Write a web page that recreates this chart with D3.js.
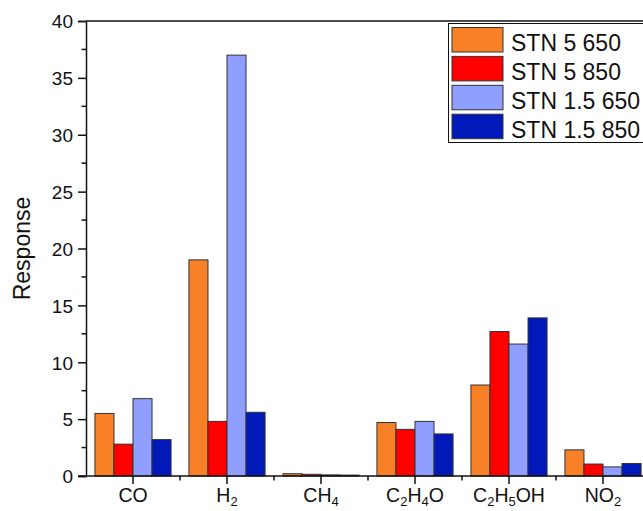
<!DOCTYPE html>
<html><head><meta charset="utf-8">
<script src="https://cdn.jsdelivr.net/npm/d3@7"></script>
<style>body{margin:0;background:#fff}svg{display:block}text{font-family:"Liberation Sans",Arial,sans-serif;fill:#111}</style>
</head><body>
<script>
const categories = [["CO"],["H",["2"]],["CH",["4"]],["C",["2"],"H",["4"],"O"],["C",["2"],"H",["5"],"OH"],["NO",["2"]]];
const categoryKeys = ["CO","H2","CH4","C2H4O","C2H5OH","NO2"];
const seriesNames = ["STN 5 650","STN 5 850","STN 1.5 650","STN 1.5 850"];
const seriesColors = ["#F88026","#FF0000","#8F9EFF","#0019B8"];
const stn5_650  = [5.5, 19.0, 0.2, 4.7, 8.0, 2.3];
const stn5_850  = [2.8, 4.8, 0.15, 4.1, 12.7, 1.05];
const stn15_650 = [6.8, 37.0, 0.1, 4.8, 11.6, 0.8];
const stn15_850 = [3.2, 5.6, 0.08, 3.7, 13.9, 1.1];
const yTicks = [0,5,10,15,20,25,30,35,40];
const seriesValues = [stn5_650, stn5_850, stn15_650, stn15_850];

const W=643,H=511;
const svg=d3.select("body").append("svg").attr("width",W).attr("height",H);
const x0=86, x1=650, yTop=21, yBot=476;
const x=d3.scaleBand().domain(categoryKeys).range([x0,x1]).paddingInner(0.19).paddingOuter(0.095);
const xs=d3.scaleBand().domain(d3.range(4)).range([0,x.bandwidth()]);
const y=d3.scaleLinear().domain([0,40]).range([yBot,yTop]);

// bars
categoryKeys.forEach((k,i)=>{
  seriesValues.forEach((vals,s)=>{
    svg.append("rect").attr("x",x(k)+xs(s)).attr("y",y(vals[i]))
      .attr("width",xs.bandwidth()).attr("height",Math.max(0.01,y(0)-y(vals[i])))
      .attr("fill",seriesColors[s]).attr("stroke","#333").attr("stroke-width",1);
  });
});

// frame top line
svg.append("line").attr("x1",x0).attr("x2",x1).attr("y1",yTop).attr("y2",yTop).attr("stroke","#111").attr("stroke-width",1.5);

// y axis
const ya=svg.append("g").attr("transform",`translate(${x0},0)`)
  .call(d3.axisLeft(y).tickValues(yTicks).tickSize(8).tickPadding(5));
ya.select(".domain").attr("stroke","#111").attr("stroke-width",1.5);
ya.selectAll(".tick line").attr("stroke","#111").attr("stroke-width",1.5);
ya.selectAll("text").attr("font-size",19).attr("font-family","Liberation Sans, Arial").attr("fill","#111").attr("dy","0.36em");
const minorY=d3.range(2.5,40,5);
svg.selectAll(".my").data(minorY).enter().append("line")
  .attr("x1",x0-4.5).attr("x2",x0).attr("y1",d=>y(d)).attr("y2",d=>y(d)).attr("stroke","#111").attr("stroke-width",1.5);

// x axis
svg.append("line").attr("x1",x0-8).attr("x2",x1).attr("y1",yBot).attr("y2",yBot).attr("stroke","#111").attr("stroke-width",1.5);
categoryKeys.forEach((k,i)=>{
  const cx=x(k)+x.bandwidth()/2;
  svg.append("line").attr("x1",cx).attr("x2",cx).attr("y1",yBot).attr("y2",yBot+8).attr("stroke","#111").attr("stroke-width",1.5);
  const bx=x0+x.step()*i;
  if(i>0) svg.append("line").attr("x1",bx).attr("x2",bx).attr("y1",yBot).attr("y2",yBot+4.5).attr("stroke","#111").attr("stroke-width",1.5);
  const t=svg.append("text").attr("x",cx).attr("y",502).attr("text-anchor","middle").attr("font-size",19.5);
  let sub=false;
  categories[i].forEach(p=>{
    if(Array.isArray(p)){ t.append("tspan").attr("font-size",13).attr("dy",sub?0:4).text(p[0]); sub=true; }
    else { t.append("tspan").attr("dy",sub?-4:0).text(p); sub=false; }
  });
});

// y label
svg.append("text").attr("transform",`translate(30,${(yTop+yBot)/2}) rotate(-90)`).attr("text-anchor","middle").attr("font-size",23).text("Response");

// legend
const lg=svg.append("g");
lg.append("rect").attr("x",448.5).attr("y",23.5).attr("width",210).attr("height",119).attr("fill","#fff").attr("stroke","#111").attr("stroke-width",1);
seriesNames.forEach((n,s)=>{
  const ry=27.5+s*28.9;
  lg.append("rect").attr("x",452).attr("y",ry).attr("width",51).attr("height",24.5).attr("fill",seriesColors[s]).attr("stroke","#333").attr("stroke-width",1);
  lg.append("text").attr("x",511).attr("y",ry+23.5).attr("font-size",23).text(n);
});
</script>
</body></html>
